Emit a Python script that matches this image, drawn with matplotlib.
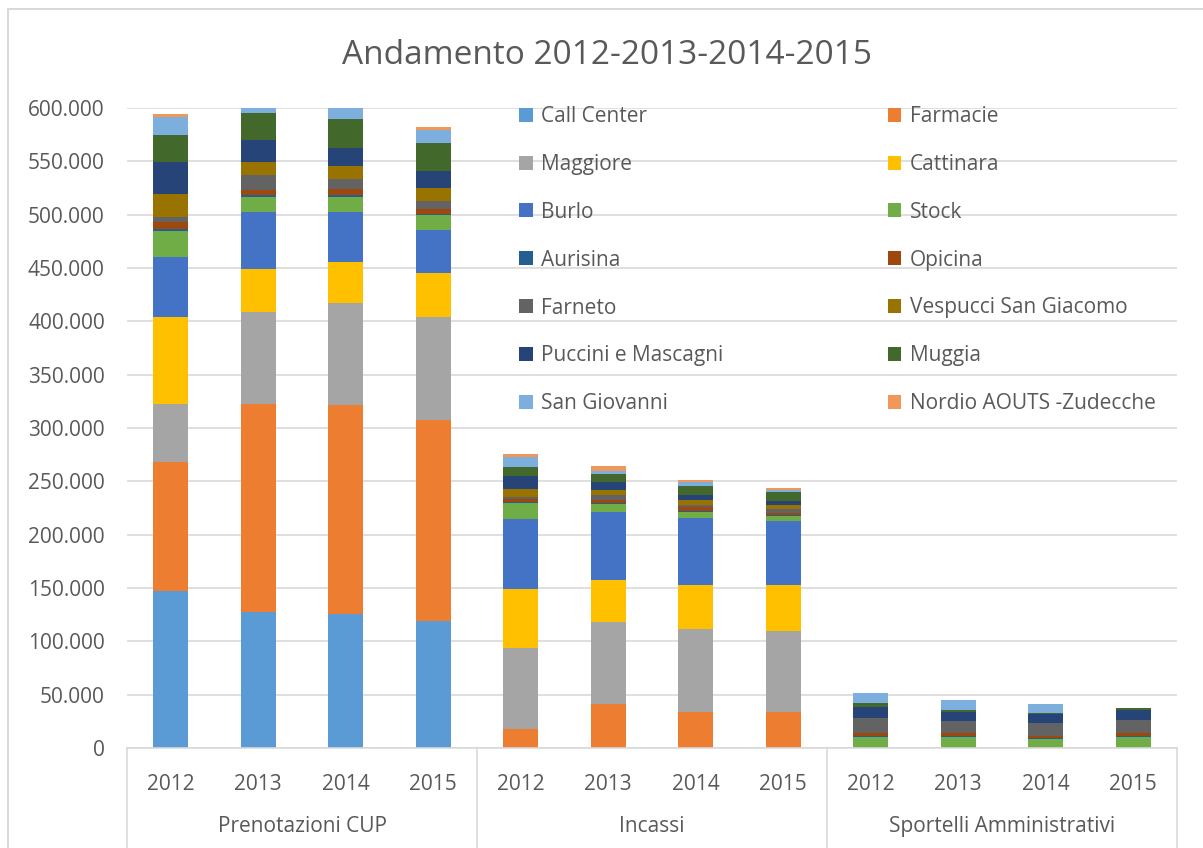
import matplotlib
matplotlib.use("Agg")
import matplotlib.pyplot as plt
from matplotlib.patches import Rectangle
import numpy as np

plt.rcParams['font.family'] = ['Open Sans', 'DejaVu Sans']

groups = ["Prenotazioni CUP", "Incassi", "Sportelli Amministrativi"]
years = ["2012", "2013", "2014", "2015"]

series = ["Call Center", "Farmacie", "Maggiore", "Cattinara", "Burlo", "Stock",
          "Aurisina", "Opicina", "Farneto", "Vespucci San Giacomo",
          "Puccini e Mascagni", "Muggia", "San Giovanni", "Nordio AOUTS -Zudecche"]
colors = ["#5B9BD5", "#ED7D31", "#A5A5A5", "#FFC000", "#4472C4", "#70AD47",
          "#255E91", "#9E480E", "#636363", "#997300", "#264478", "#43682B",
          "#7CAFDD", "#F1975A"]

# values per series: CUP 2012-2015, Incassi 2012-2015, Sportelli 2012-2015
call_center = [147000, 127800, 125300, 119400, 0, 0, 0, 0, 0, 0, 0, 0]
farmacie = [121400, 194700, 196000, 188400, 18000, 41250, 33750, 33750, 0, 0, 0, 0]
maggiore = [54100, 86500, 95900, 96200, 75750, 76850, 77850, 75950, 0, 0, 0, 0]
cattinara = [81500, 39700, 38400, 41000, 55250, 39700, 41200, 43100, 0, 0, 0, 0]
burlo = [56600, 54100, 47200, 40900, 66000, 63800, 62500, 60300, 0, 0, 0, 0]
stock = [24100, 14100, 14100, 14100, 14700, 6800, 5950, 4700, 10000, 10000, 8400, 10000]
aurisina = [2200, 1200, 1200, 600, 1200, 1000, 950, 600, 1250, 1250, 1300, 1250]
opicina = [6500, 5000, 6300, 4700, 2200, 3100, 3400, 1600, 3150, 2500, 1550, 2500]
farneto = [4400, 14100, 9400, 7200, 2200, 4400, 2200, 4100, 13400, 11850, 11850, 12850]
vespucci = [21600, 12500, 12100, 12800, 7500, 5000, 4400, 3700, 0, 0, 0, 0]
puccini = [30300, 20300, 16900, 15900, 12200, 7500, 5000, 3400, 10600, 8500, 8800, 9300]
muggia = [25300, 25300, 26600, 26300, 8100, 7800, 8400, 8500, 3800, 1200, 1200, 1300]
san_giovanni = [16600, 9000, 14000, 12200, 10000, 2200, 3500, 2200, 9700, 9400, 8150, 0]
nordio = [2500, 1500, 1500, 2500, 2200, 5300, 2500, 2100, 0, 0, 0, 0]

values = [call_center, farmacie, maggiore, cattinara, burlo, stock, aurisina,
          opicina, farneto, vespucci, puccini, muggia, san_giovanni, nordio]

W, H = 1203, 848
fig = plt.figure(figsize=(W / 100, H / 100), dpi=100)
ax = fig.add_axes([127 / W, (H - 748) / H, 1050 / W, 640 / H])

txt = "#595959"
fs = 15
x = np.arange(len(groups) * len(years))
bottom = np.zeros(len(x))
handles = []
for name, vals, c in zip(series, values, colors):
    v = np.array(vals, dtype=float)
    b = ax.bar(x, v, 0.4, bottom=bottom, color=c, label=name, zorder=2)
    handles.append(b)
    bottom += v

ax.set_xlim(-0.5, len(x) - 0.5)
ax.set_ylim(0, 600000)
ax.set_yticks(np.arange(0, 600001, 50000))
ax.set_yticklabels(["0"] + [f"{v // 1000}.000" for v in range(50000, 600001, 50000)])
ax.yaxis.grid(True, color="#d9d9d9", linewidth=1.2, zorder=0)
ax.set_axisbelow(True)
for s in ["top", "right", "left"]:
    ax.spines[s].set_visible(False)
ax.spines["bottom"].set_color("#d9d9d9")
ax.spines["bottom"].set_linewidth(1.2)
ax.tick_params(axis="y", length=0, pad=16, labelsize=fs, labelcolor=txt)
ax.set_xticks(x)
ax.set_xticklabels(years * len(groups))
ax.tick_params(axis="x", length=0, pad=19, labelsize=fs, labelcolor=txt)

xt = ax.get_xaxis_transform()
for i in range(len(groups) + 1):
    ax.plot([i * 4 - 0.5] * 2, [0, -0.16], transform=xt, color="#d9d9d9",
            linewidth=1.2, clip_on=False)
for i, g in enumerate(groups):
    ax.text(i * 4 + 1.5, -0.123, g, transform=xt, ha="center", va="center",
            fontsize=fs, color=txt)

fig.text(607 / W, 1 - 55 / H, "Andamento 2012-2013-2014-2015", ha="center",
         va="center", fontsize=24, color=txt)

order = list(range(0, len(series), 2)) + list(range(1, len(series), 2))
leg = ax.legend([handles[i] for i in order], [series[i] for i in order], ncol=2,
                loc="upper left", bbox_to_anchor=(519 / W, 1 - 106 / H),
                bbox_transform=fig.transFigure, frameon=False, fontsize=fs,
                handlelength=0.65, handleheight=0.65, handletextpad=0.4,
                labelspacing=1.29, columnspacing=7.9, borderpad=0, borderaxespad=0)
for t in leg.get_texts():
    t.set_color(txt)

fig.patches.append(Rectangle((8 / W, -0.01), 1.0, 1 - 9 / H + 0.01,
                             transform=fig.transFigure, fill=False,
                             edgecolor="#d9d9d9", linewidth=1.5))

fig.savefig("out.png", dpi=100)
